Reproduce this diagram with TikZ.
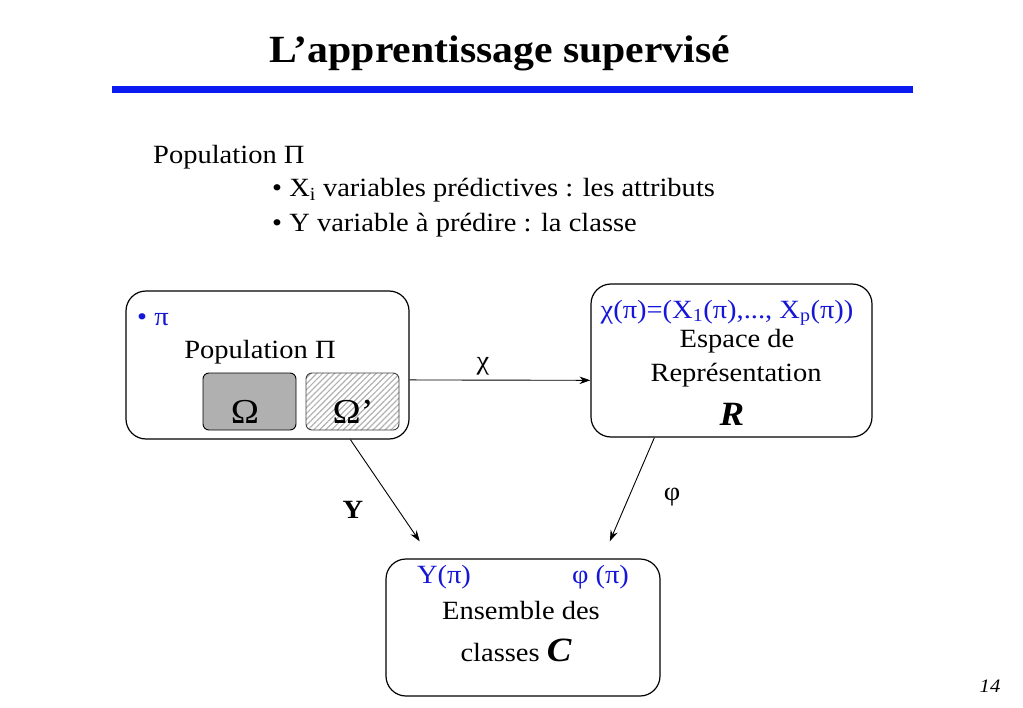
\documentclass[tikz,border=0pt]{standalone}
\usepackage{fontspec}
\setmainfont[FakeStretch=1.084]{Liberation Serif}
\usetikzlibrary{arrows.meta,patterns.meta}
\definecolor{barblue}{RGB}{10,26,240}
\definecolor{textblue}{RGB}{22,22,215}
\definecolor{omegagrey}{RGB}{176,176,176}

\begin{document}
\begin{tikzpicture}[x=1bp,y=-1bp,
    txt/.style={inner sep=0pt,anchor=base,font=\fontsize{26.3bp}{34bp}\selectfont},
    bluetxt/.style={txt,text=textblue},
    bigtxt/.style={inner sep=0pt,anchor=base,font=\fontsize{35bp}{40bp}\selectfont},
    bigbox/.style={draw,line width=1.2bp,rounded corners=20bp,inner sep=0pt},
    omegabox/.style={draw,line width=0.9bp,rounded corners=6bp,inner sep=0pt,
      minimum width=93bp,minimum height=57bp},
    arr/.style={-{Stealth[length=11bp,width=7.5bp]},line width=0.9bp}]
  \useasboundingbox (0,0) rectangle (1023,708);

  % titre
  \node[inner sep=0pt,anchor=base,font=\fontsize{38.5bp}{44bp}\bfseries\selectfont]
    (title) at (500,63) {L’apprentissage supervisé};
  \fill[barblue] (112,86) rectangle (913,93);

  % texte du haut
  \node[txt,anchor=base west] (poptxt) at (153,164) {Population Π};
  \node[txt,anchor=base west] (attr) at (272,197) {\textbullet{} X\textsubscript{i} variables prédictives : les attributs};
  \node[txt,anchor=base west] (cls) at (272,231) {\textbullet{} Y variable à prédire : la classe};

  % les trois boites
  \node[bigbox,minimum width=283bp,minimum height=148bp] (pop) at (267.5,365) {};
  \node[bigbox,minimum width=281bp,minimum height=153bp] (rep) at (731.5,360.5) {};
  \node[bigbox,minimum width=274bp,minimum height=137bp] (ens) at (523,627.5) {};

  % population
  \node[bluetxt,anchor=base west] (pi) at (137,325) {\textbullet\ π};
  \node[txt] (popname) at (260,358) {Population Π};
  \node[omegabox,fill=omegagrey] (om) at (249.5,401.5) {};
  \node[omegabox,draw=black!75,pattern={Lines[angle=45,distance=4.2bp,line width=1.2bp]},
    pattern color=black!30] (omp) at (352.5,401.5) {};
  \node[bigtxt] (omlab) at (245,423) {Ω};
  \node[bigtxt] (omplab) at (353,423) {Ω’};

  % espace de representation
  \node[bluetxt] (chipi) at (727,318) {χ(π)=(X\textsubscript{1}(π),..., X\textsubscript{p}(π))};
  \node[txt] (esp) at (737,347) {Espace de};
  \node[txt] (repr) at (736,381) {Représentation};
  \node[bigtxt,font=\fontsize{34bp}{40bp}\bfseries\itshape\selectfont] (R) at (732,425) {R};

  % ensemble des classes
  \node[bluetxt] (ypi) at (444,583) {Y(π)};
  \node[bluetxt] (phipi) at (600.5,583) {φ (π)};
  \node[txt] (ensname) at (521,619) {Ensemble des};
  \node[txt] (classes) at (516,661) {classes {\fontsize{34bp}{40bp}\bfseries\itshape\selectfont C}};

  % fleches
  \draw[arr] (pop.-6.45) -- (rep.188.3);
  \draw[arr,shorten >=20.6bp] (pop.-42.9) -- (ens.143.7);
  \draw[arr,shorten >=18.6bp] (rep.225) -- (ens.41.5);
  \node[txt] (chi) at (483,369) {χ};
  \node[txt,font=\fontsize{26.3bp}{34bp}\bfseries\selectfont] (Y) at (353,518) {Y};
  \node[txt] (phi) at (672,500) {φ};

  % numero de page
  \node[inner sep=0pt,anchor=base,font=\fontsize{19bp}{22bp}\itshape\selectfont] (num) at (990,692) {14};
\end{tikzpicture}
\end{document}
